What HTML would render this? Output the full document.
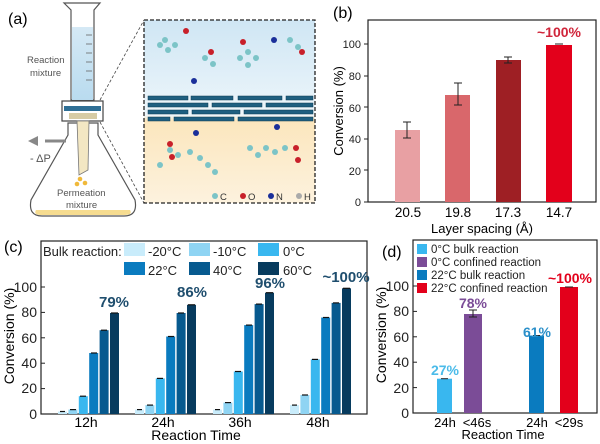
<!DOCTYPE html>
<html><head><meta charset="utf-8"><style>
html,body{margin:0;padding:0;background:#fff;}
svg{display:block;font-family:"Liberation Sans",Arial,sans-serif;}
</style></head><body>
<svg width="600" height="444" viewBox="0 0 600 444" xmlns="http://www.w3.org/2000/svg">
<defs>
<linearGradient id="bg1" x1="0" y1="0" x2="0" y2="1">
<stop offset="0" stop-color="#cfe6f4"/><stop offset="0.4" stop-color="#e6f2f9"/><stop offset="0.52" stop-color="#eef6fb"/>
<stop offset="0.55" stop-color="#fbe6bd"/><stop offset="1" stop-color="#fdf2de"/>
</linearGradient>
<linearGradient id="liq" x1="0" y1="0" x2="0" y2="1"><stop offset="0" stop-color="#d5e9f5"/><stop offset="1" stop-color="#b9dbef"/></linearGradient>
</defs>
<!-- Panel a -->
<text x="8" y="24" font-size="16">(a)</text>
<path d="M64 3 L100 3 L94 10 L94 100 L71 100 L71 10 Z" fill="#fff" stroke="#555" stroke-width="1.2"/>
<rect x="72" y="27" width="21" height="73" fill="url(#liq)"/>
<g stroke="#666" stroke-width="0.8"><line x1="86" y1="35" x2="92" y2="35"/><line x1="86" y1="44" x2="92" y2="44"/><line x1="86" y1="53" x2="92" y2="53"/><line x1="86" y1="62" x2="92" y2="62"/><line x1="86" y1="71" x2="92" y2="71"/><line x1="86" y1="80" x2="92" y2="80"/></g>
<text x="27" y="63" font-size="9.5" fill="#555">Reaction</text>
<text x="30" y="76" font-size="9.5" fill="#555">mixture</text>
<rect x="62" y="101" width="41" height="20" fill="#fff" stroke="#444" stroke-width="1.2"/>
<rect x="64" y="106" width="37" height="5" fill="#2f6f95"/>
<rect x="69" y="113" width="28" height="6" fill="#d6cba4"/>
<path d="M68 123 L98 123 L98 135 L135 200 Q138 216 124 216 L42 216 Q28 216 31 200 L68 135 Z" fill="#fff" stroke="#555" stroke-width="1.2"/>
<path d="M36 210 L130 210 Q133 215 124 215 L42 215 Q33 215 36 210Z" fill="#f6dc90"/>
<path d="M77 121 L89 121 L88 170 L79 175 Z" fill="#f3e7c3" stroke="#777" stroke-width="0.8"/>
<circle cx="80" cy="179" r="2.3" fill="#f0b93a"/><circle cx="85" cy="183" r="2.3" fill="#f0b93a"/><circle cx="77" cy="184" r="2.3" fill="#f0b93a"/>
<text x="57" y="196" font-size="9.5" fill="#555">Permeation</text>
<text x="66" y="208" font-size="9.5" fill="#555">mixture</text>
<line x1="45" y1="141" x2="66" y2="141" stroke="#888" stroke-width="3"/>
<path d="M28 141 L38 136 L38 146Z" fill="#888"/>
<text x="30" y="162" font-size="11" fill="#555">- ΔP</text>
<line x1="100" y1="100" x2="144" y2="20" stroke="#444" stroke-dasharray="3,2" stroke-width="0.8"/>
<line x1="100" y1="122" x2="144" y2="203" stroke="#444" stroke-dasharray="3,2" stroke-width="0.8"/>
<rect x="144" y="20" width="171" height="183" fill="url(#bg1)" stroke="#222" stroke-dasharray="4,2" stroke-width="1.3"/>
<g fill="#1f5f80" stroke="#0d3a52" stroke-width="0.5">
<rect x="148" y="96" width="40" height="4"/><rect x="191" y="96" width="42" height="4"/><rect x="238" y="96" width="44" height="4"/><rect x="286" y="96" width="27" height="4"/>
<rect x="148" y="103" width="60" height="4"/><rect x="212" y="103" width="50" height="4"/><rect x="266" y="103" width="47" height="4"/>
<rect x="148" y="110" width="40" height="4"/><rect x="192" y="110" width="48" height="4"/><rect x="244" y="110" width="69" height="4"/>
<rect x="148" y="117" width="22" height="4"/><rect x="174" y="117" width="60" height="4"/><rect x="238" y="117" width="75" height="4"/>
</g>
<g fill="#7cc4c7"><circle cx="160" cy="45" r="3"/><circle cx="168" cy="50" r="3"/><circle cx="175" cy="45" r="3"/><circle cx="165" cy="40" r="3"/><circle cx="240" cy="58" r="3"/><circle cx="248" cy="52" r="3"/><circle cx="256" cy="58" r="3"/><circle cx="248" cy="65" r="3"/><circle cx="205" cy="58" r="3"/><circle cx="213" cy="64" r="3"/><circle cx="290" cy="40" r="3"/><circle cx="298" cy="47" r="3"/>
<circle cx="170" cy="150" r="3"/><circle cx="178" cy="155" r="3"/><circle cx="190" cy="152" r="3"/><circle cx="200" cy="158" r="3"/><circle cx="208" cy="165" r="3"/><circle cx="215" cy="172" r="3"/><circle cx="250" cy="148" r="3"/><circle cx="258" cy="155" r="3"/><circle cx="266" cy="148" r="3"/><circle cx="275" cy="152" r="3"/><circle cx="285" cy="148" r="3"/><circle cx="160" cy="165" r="3"/></g>
<g fill="#c8202a"><circle cx="186" cy="31" r="3"/><circle cx="243" cy="42" r="3"/><circle cx="211" cy="52" r="3"/><circle cx="170" cy="144" r="3"/><circle cx="172" cy="157" r="3"/><circle cx="296" cy="148" r="3"/><circle cx="298" cy="160" r="3"/><circle cx="302" cy="52" r="3"/></g>
<g fill="#1a2f9a"><circle cx="194" cy="81" r="3"/><circle cx="274" cy="40" r="3"/><circle cx="196" cy="133" r="3"/><circle cx="277" cy="127" r="3"/></g>
<g font-size="9.5" fill="#333"><circle cx="215" cy="196" r="3" fill="#7cc4c7"/><text x="220" y="200">C</text><circle cx="243" cy="196" r="3" fill="#c8202a"/><text x="248" y="200">O</text><circle cx="271" cy="196" r="3" fill="#1a2f9a"/><text x="276" y="200">N</text><circle cx="299" cy="196" r="3" fill="#aaa"/><text x="304" y="200">H</text></g>

<!-- Panel b -->
<text x="333" y="18" font-size="16">(b)</text>
<rect x="368" y="20" width="228" height="182" fill="none" stroke="#222" stroke-width="1.2"/>
<g fill="#222" font-size="11" text-anchor="end">
<text x="361" y="206">0</text><text x="361" y="175">20</text><text x="361" y="143">40</text><text x="361" y="112">60</text><text x="361" y="80">80</text><text x="361" y="48">100</text></g>
<g stroke="#222"><line x1="364" y1="202" x2="368" y2="202"/><line x1="364" y1="170" x2="368" y2="170"/><line x1="364" y1="139" x2="368" y2="139"/><line x1="364" y1="107" x2="368" y2="107"/><line x1="364" y1="76" x2="368" y2="76"/><line x1="364" y1="44" x2="368" y2="44"/></g>
<text transform="translate(343,111) rotate(-90)" font-size="13" text-anchor="middle">Conversion (%)</text>
<rect x="395" y="130" width="25" height="72" fill="#e8a0a3"/>
<rect x="445" y="95" width="25" height="107" fill="#d9676b"/>
<rect x="496" y="60" width="25" height="142" fill="#9e1f24"/>
<rect x="546" y="45" width="26" height="157" fill="#e3001b"/>
<g stroke="#222" stroke-width="1"><line x1="407" y1="122" x2="407" y2="138"/><line x1="403" y1="122" x2="411" y2="122"/><line x1="403" y1="138" x2="411" y2="138"/>
<line x1="458" y1="83" x2="458" y2="105"/><line x1="454" y1="83" x2="462" y2="83"/><line x1="454" y1="105" x2="462" y2="105"/>
<line x1="508" y1="57" x2="508" y2="63"/><line x1="504" y1="57" x2="512" y2="57"/><line x1="504" y1="63" x2="512" y2="63"/>
<line x1="555" y1="44" x2="563" y2="44"/></g>
<text x="559" y="37" font-size="14" font-weight="bold" fill="#d0253a" text-anchor="middle">~100%</text>
<g font-size="13.5" text-anchor="middle"><text x="408" y="217">20.5</text><text x="458" y="217">19.8</text><text x="508" y="217">17.3</text><text x="559" y="217">14.7</text></g>
<text x="482" y="233" font-size="13" text-anchor="middle">Layer spacing (Å)</text>

<!-- Panel c -->
<text x="4" y="252" font-size="16">(c)</text>
<rect x="41" y="241" width="326" height="173" fill="none" stroke="#222" stroke-width="1.2"/>
<g fill="#222" font-size="14" text-anchor="end">
<text x="37" y="419">0</text><text x="37" y="393">20</text><text x="37" y="368">40</text><text x="37" y="343">60</text><text x="37" y="317">80</text><text x="37" y="292">100</text></g>
<g stroke="#222"><line x1="41" y1="414" x2="45" y2="414"/><line x1="41" y1="388.6" x2="45" y2="388.6"/><line x1="41" y1="363.2" x2="45" y2="363.2"/><line x1="41" y1="337.8" x2="45" y2="337.8"/><line x1="41" y1="312.4" x2="45" y2="312.4"/><line x1="41" y1="287" x2="45" y2="287"/></g>
<text transform="translate(14,336) rotate(-90)" font-size="14" text-anchor="middle">Conversion (%)</text>
<g font-size="13" fill="#222">
<text x="43" y="256">Bulk reaction:</text>
<rect x="124" y="243" width="21" height="13" fill="#c9ecfb"/><text x="148" y="256">-20°C</text>
<rect x="189" y="243" width="21" height="13" fill="#8fd4f3"/><text x="213" y="256">-10°C</text>
<rect x="258" y="243" width="21" height="13" fill="#39b7ef"/><text x="283" y="256">0°C</text>
<rect x="124" y="262" width="21" height="13" fill="#0a7bbf"/><text x="148" y="275">22°C</text>
<rect x="189" y="262" width="21" height="13" fill="#075a8f"/><text x="213" y="275">40°C</text>
<rect x="258" y="262" width="21" height="13" fill="#073b5e"/><text x="283" y="275">60°C</text>
</g>
<g>
<rect x="58" y="411.5" width="9" height="2.5" fill="#c9ecfb"/><rect x="68.4" y="409.6" width="9" height="4.4" fill="#8fd4f3"/><rect x="78.8" y="396.2" width="9" height="17.8" fill="#39b7ef"/><rect x="89.2" y="353" width="9" height="61" fill="#0a7bbf"/><rect x="99.6" y="330.2" width="9" height="83.8" fill="#075a8f"/><rect x="110" y="313" width="9" height="101" fill="#073b5e"/>
</g>
<rect x="135" y="409.6" width="9" height="4.4" fill="#c9ecfb"/><rect x="145.4" y="405.1" width="9" height="8.9" fill="#8fd4f3"/><rect x="155.8" y="378.4" width="9" height="35.6" fill="#39b7ef"/><rect x="166.2" y="336.5" width="9" height="77.5" fill="#0a7bbf"/><rect x="176.6" y="313" width="9" height="101" fill="#075a8f"/><rect x="187" y="304.8" width="9" height="109.2" fill="#073b5e"/>
<rect x="213" y="409.6" width="9" height="4.4" fill="#c9ecfb"/><rect x="223.4" y="402.6" width="9" height="11.4" fill="#8fd4f3"/><rect x="233.8" y="371.5" width="9" height="42.5" fill="#39b7ef"/><rect x="244.2" y="325.1" width="9" height="88.9" fill="#0a7bbf"/><rect x="254.6" y="304.1" width="9" height="109.9" fill="#075a8f"/><rect x="265" y="292.7" width="9" height="121.3" fill="#073b5e"/>
<rect x="290" y="405.1" width="9" height="8.9" fill="#c9ecfb"/><rect x="300.4" y="395" width="9" height="19" fill="#8fd4f3"/><rect x="310.8" y="359.4" width="9" height="54.6" fill="#39b7ef"/><rect x="321.2" y="317.5" width="9" height="96.5" fill="#0a7bbf"/><rect x="331.6" y="302.9" width="9" height="111.1" fill="#075a8f"/><rect x="342" y="288.3" width="9" height="125.7" fill="#073b5e"/>
<g stroke="#111" stroke-width="1.2">
<line x1="60" y1="411.5" x2="65" y2="411.5"/><line x1="70" y1="409.6" x2="76" y2="409.6"/><line x1="80" y1="396.2" x2="86" y2="396.2"/><line x1="91" y1="353" x2="97" y2="353"/><line x1="101" y1="330.2" x2="107" y2="330.2"/><line x1="111" y1="313" x2="118" y2="313"/>
<line x1="137" y1="409.6" x2="142" y2="409.6"/><line x1="147" y1="405.1" x2="153" y2="405.1"/><line x1="157" y1="378.4" x2="163" y2="378.4"/><line x1="168" y1="336.5" x2="174" y2="336.5"/><line x1="178" y1="313" x2="184" y2="313"/><line x1="188" y1="304.8" x2="195" y2="304.8"/>
<line x1="215" y1="409.6" x2="220" y2="409.6"/><line x1="225" y1="402.6" x2="231" y2="402.6"/><line x1="235" y1="371.5" x2="241" y2="371.5"/><line x1="246" y1="325.1" x2="252" y2="325.1"/><line x1="256" y1="304.1" x2="262" y2="304.1"/><line x1="266" y1="292.7" x2="273" y2="292.7"/>
<line x1="292" y1="405.1" x2="297" y2="405.1"/><line x1="302" y1="395" x2="308" y2="395"/><line x1="312" y1="359.4" x2="318" y2="359.4"/><line x1="323" y1="317.5" x2="329" y2="317.5"/><line x1="333" y1="302.9" x2="339" y2="302.9"/><line x1="343" y1="288.3" x2="350" y2="288.3"/>
</g>
<g font-size="15" font-weight="bold" fill="#1f4e6e" text-anchor="middle">
<text x="114" y="307">79%</text><text x="192" y="297">86%</text><text x="270" y="288">96%</text><text x="346" y="282">~100%</text></g>
<g font-size="14" text-anchor="middle"><text x="86" y="427">12h</text><text x="163" y="427">24h</text><text x="240" y="427">36h</text><text x="318" y="427">48h</text></g>
<text x="196" y="440" font-size="14" text-anchor="middle">Reaction Time</text>

<!-- Panel d -->
<text x="382" y="257" font-size="16">(d)</text>
<rect x="413" y="240" width="184" height="173" fill="none" stroke="#222" stroke-width="1.2"/>
<g fill="#222" font-size="14" text-anchor="end">
<text x="409" y="418">0</text><text x="409" y="393">20</text><text x="409" y="367">40</text><text x="409" y="342">60</text><text x="409" y="316">80</text><text x="409" y="291">100</text></g>
<g stroke="#222"><line x1="413" y1="413" x2="417" y2="413"/><line x1="413" y1="387.6" x2="417" y2="387.6"/><line x1="413" y1="362.2" x2="417" y2="362.2"/><line x1="413" y1="336.8" x2="417" y2="336.8"/><line x1="413" y1="311.4" x2="417" y2="311.4"/><line x1="413" y1="286" x2="417" y2="286"/></g>
<text transform="translate(386,335) rotate(-90)" font-size="14" text-anchor="middle">Conversion (%)</text>
<g font-size="11.5" fill="#222">
<rect x="417" y="244" width="10" height="10" fill="#39b7ef"/><text x="431" y="253">0°C bulk reaction</text>
<rect x="417" y="257" width="10" height="10" fill="#7b4c97"/><text x="431" y="266">0°C confined reaction</text>
<rect x="417" y="270" width="10" height="10" fill="#0a7bbf"/><text x="431" y="279">22°C bulk reaction</text>
<rect x="417" y="283" width="10" height="10" fill="#e3001b"/><text x="431" y="292">22°C confined reaction</text>
</g>
<rect x="437" y="378.7" width="15" height="34.3" fill="#39b7ef"/>
<rect x="464" y="314" width="18" height="99" fill="#7b4c97"/>
<rect x="529" y="335.5" width="15" height="77.5" fill="#0a7bbf"/>
<rect x="560" y="287" width="18" height="126" fill="#e3001b"/>
<g stroke="#222"><line x1="469" y1="310" x2="477" y2="310"/><line x1="469" y1="317" x2="477" y2="317"/><line x1="473" y1="310" x2="473" y2="317"/><line x1="441" y1="378.7" x2="448" y2="378.7"/><line x1="533" y1="335.5" x2="540" y2="335.5"/><line x1="565" y1="287" x2="573" y2="287"/></g>
<g font-size="14" font-weight="bold" text-anchor="middle">
<text x="445" y="375" fill="#4bbbe9">27%</text><text x="473" y="308" fill="#7b4c97">78%</text><text x="537" y="337" fill="#2a8fc9">61%</text><text x="570" y="283" fill="#e3001b">~100%</text></g>
<g font-size="13" text-anchor="middle"><text x="445" y="427">24h</text><text x="477" y="427">&lt;46s</text><text x="537" y="427">24h</text><text x="569" y="427">&lt;29s</text></g>
<text x="503" y="439" font-size="13" text-anchor="middle">Reaction Time</text>
</svg>
</body></html>
